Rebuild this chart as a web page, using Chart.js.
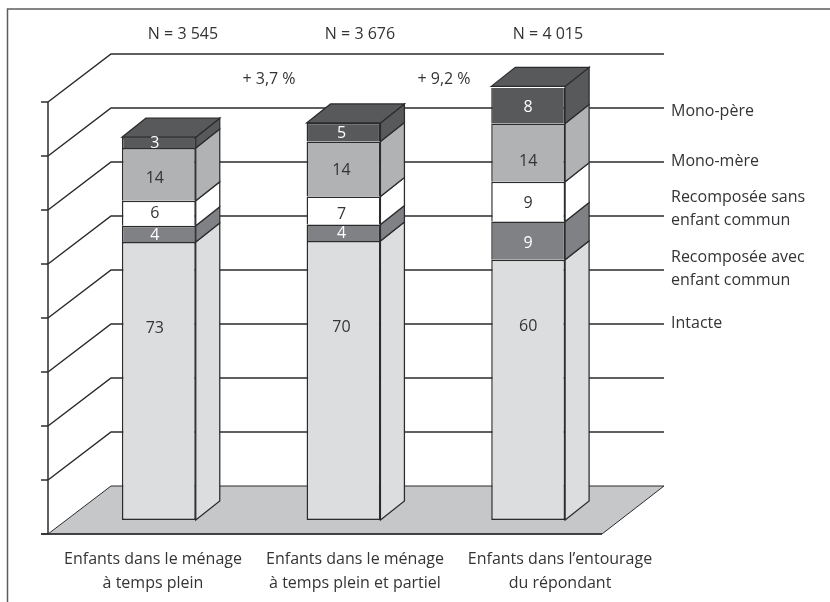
<!DOCTYPE html>
<html lang="fr">
<head>
<meta charset="utf-8">
<title>Enfants selon le type de famille</title>
<script src="https://cdn.jsdelivr.net/npm/chart.js@4"></script>
<style>
  html, body { margin: 0; padding: 0; background: #fff; }
  canvas { display: block; }
</style>
</head>
<body>
<canvas id="chart" width="830" height="602"></canvas>
<script>
/* Stacked 3D-look columns: y axis is the head count, printed labels are shares (%) */
const categories = [
  ["Enfants dans le ménage", "à temps plein"],
  ["Enfants dans le ménage", "à temps plein et partiel"],
  ["Enfants dans l’entourage", "du répondant"],
];
const totals = ["N = 3 545", "N = 3 676", "N = 4 015"];
const growth = ["+ 3,7 %", "+ 9,2 %"];

const seriesNames = ["Intacte", "Recomposée avec enfant commun", "Recomposée sans enfant commun", "Mono-mère", "Mono-père"];
const intacte = [2575, 2584, 2409];
const recompAvec = [150, 153, 355];
const recompSans = [230, 259, 368];
const monoMere = [490, 509, 540];
const monoPere = [100, 171, 343];

const pctIntacte = ["73", "70", "60"];
const pctAvec = ["4", "4", "9"];
const pctSans = ["6", "7", "9"];
const pctMere = ["14", "14", "14"];
const pctPere = ["3", "5", "8"];

const yTicks = [0, 500, 1000, 1500, 2000, 2500, 3000, 3500, 4000];

const COLORS = {
  line: "#2b2b2d",
  frame: "#5c5d5f",
  text: "#343436",
  floor: "#c6c7c9",
  fills: ["#dcddde", "#808184", "#ffffff", "#b1b2b4", "#58595b"],
};
const FONT = '16px "Open Sans", sans-serif';
const pctLabels = [pctIntacte, pctAvec, pctSans, pctMere, pctPere];
const lightText = [false, true, false, false, true];

// hand placed text, as in the printed figure: [x offset from bar, y]
const pctOffsetX = [-4, -2, 0];
const pctY = [
  [328, 327, 326],
  [235, 233, 243],
  [213, 214, 203],
  [178, 170, 161],
  [143, 133, 107],
];
const rightLabels = [
  ["Mono-père", 111], ["Mono-mère", 161], ["Recomposée sans", 197], ["enfant commun", 220],
  ["Recomposée avec", 257], ["enfant commun", 280], ["Intacte", 323],
];
const categoryX = [153, 355, 560];
const totalX = [183, 360, 548];
const growthX = [269, 444];

const wall = { frontX: 48, backX: 111, rightX: 664, floorRightX: 602, frontDy: 14, backDy: -34 };
const depth = { dx: 24, dy: -19 };

function polygon(ctx, pts, fill, stroke, width) {
  ctx.beginPath();
  pts.forEach((p, i) => (i ? ctx.lineTo(p[0], p[1]) : ctx.moveTo(p[0], p[1])));
  ctx.closePath();
  if (fill) {
    ctx.fillStyle = fill;
    ctx.fill();
  }
  if (stroke) {
    ctx.strokeStyle = stroke;
    ctx.lineWidth = width;
    ctx.stroke();
  }
}

function segment(ctx, x1, y1, x2, y2) {
  ctx.beginPath();
  ctx.moveTo(x1, y1);
  ctx.lineTo(x2, y2);
  ctx.stroke();
}

const wallsPlugin = {
  id: "walls",
  beforeDatasetsDraw(chart) {
    const { ctx, scales } = chart;
    const y0 = scales.y.getPixelForValue(0);
    ctx.save();
    // page frame
    ctx.strokeStyle = COLORS.frame;
    ctx.lineWidth = 1.5;
    ctx.beginPath();
    ctx.moveTo(7.5, 602);
    ctx.lineTo(7.5, 9);
    ctx.lineTo(830, 9);
    ctx.stroke();
    // floor
    polygon(ctx, [
      [wall.frontX, y0 + wall.frontDy],
      [wall.backX, y0 + wall.backDy],
      [wall.rightX, y0 + wall.backDy],
      [wall.floorRightX, y0 + wall.frontDy],
    ], COLORS.floor, COLORS.line, 1);
    // grid lines on both walls, ticks on the front edge
    ctx.strokeStyle = COLORS.line;
    ctx.lineWidth = 1.5;
    yTicks.forEach((v) => {
      const y = scales.y.getPixelForValue(v);
      segment(ctx, wall.frontX - 7, y + wall.frontDy, wall.frontX, y + wall.frontDy);
      if (v === 0) return;
      ctx.beginPath();
      ctx.moveTo(wall.frontX, y + wall.frontDy);
      ctx.lineTo(wall.backX, y + wall.backDy);
      ctx.lineTo(wall.rightX, y + wall.backDy);
      ctx.stroke();
    });
    const yTop = scales.y.getPixelForValue(yTicks[yTicks.length - 1]);
    segment(ctx, wall.frontX, yTop + wall.frontDy, wall.frontX, y0 + wall.frontDy);
    segment(ctx, wall.frontX - 7, y0 + wall.frontDy, wall.floorRightX, y0 + wall.frontDy);
    // side and top faces of the columns
    chart.data.datasets.forEach((ds, i) => {
      chart.getDatasetMeta(i).data.forEach((bar) => {
        const { x, y, base, width } = bar.getProps(["x", "y", "base", "width"], true);
        const r = x + width / 2;
        polygon(ctx, [
          [r, base],
          [r + depth.dx, base + depth.dy],
          [r + depth.dx, y + depth.dy],
          [r, y],
        ], ds.backgroundColor, COLORS.line, 1.25);
        if (i === chart.data.datasets.length - 1) {
          const l = x - width / 2;
          polygon(ctx, [
            [l, y],
            [l + depth.dx, y + depth.dy],
            [r + depth.dx, y + depth.dy],
            [r, y],
          ], ds.backgroundColor, COLORS.line, 1.25);
        }
      });
    });
    ctx.restore();
  },
  afterDatasetsDraw(chart) {
    const { ctx } = chart;
    ctx.save();
    ctx.font = FONT;
    ctx.textBaseline = "middle";
    ctx.textAlign = "center";
    // shares printed on the columns
    chart.data.datasets.forEach((ds, i) => {
      chart.getDatasetMeta(i).data.forEach((bar, j) => {
        ctx.fillStyle = lightText[i] ? "#ffffff" : COLORS.text;
        ctx.fillText(pctLabels[i][j], bar.x + pctOffsetX[j], pctY[i][j]);
      });
    });
    ctx.fillStyle = COLORS.text;
    totals.forEach((t, i) => ctx.fillText(t, totalX[i], 34));
    growth.forEach((t, i) => ctx.fillText(t, growthX[i], 79));
    categories.forEach((lines, i) => {
      lines.forEach((t, k) => ctx.fillText(t, categoryX[i], 559 + k * 24));
    });
    ctx.textAlign = "left";
    rightLabels.forEach((r) => ctx.fillText(r[0], 671, r[1]));
    ctx.restore();
  },
};

const seriesValues = [intacte, recompAvec, recompSans, monoMere, monoPere];

new Chart(document.getElementById("chart"), {
  type: "bar",
  data: {
    labels: categories,
    datasets: seriesNames.map((name, i) => ({
      label: name,
      data: seriesValues[i],
      backgroundColor: COLORS.fills[i],
      borderColor: COLORS.line,
      // only the lowest segment keeps a bottom edge, so dividers stay single lines
      borderWidth: { left: 1.5, right: 1.5, top: 1.5, bottom: i === 0 ? 1.5 : 0 },
      borderSkipped: false,
      barPercentage: 0.4,
      categoryPercentage: 1,
    })),
  },
  options: {
    responsive: false,
    animation: false,
    layout: { padding: { left: 66.5, right: 209.5, top: 88, bottom: 82 } },
    plugins: { legend: { display: false }, tooltip: { enabled: false } },
    scales: {
      x: { stacked: true, display: false },
      y: { stacked: true, display: false, min: 0, max: 4000 },
    },
  },
  plugins: [wallsPlugin],
});
</script>
</body>
</html>
